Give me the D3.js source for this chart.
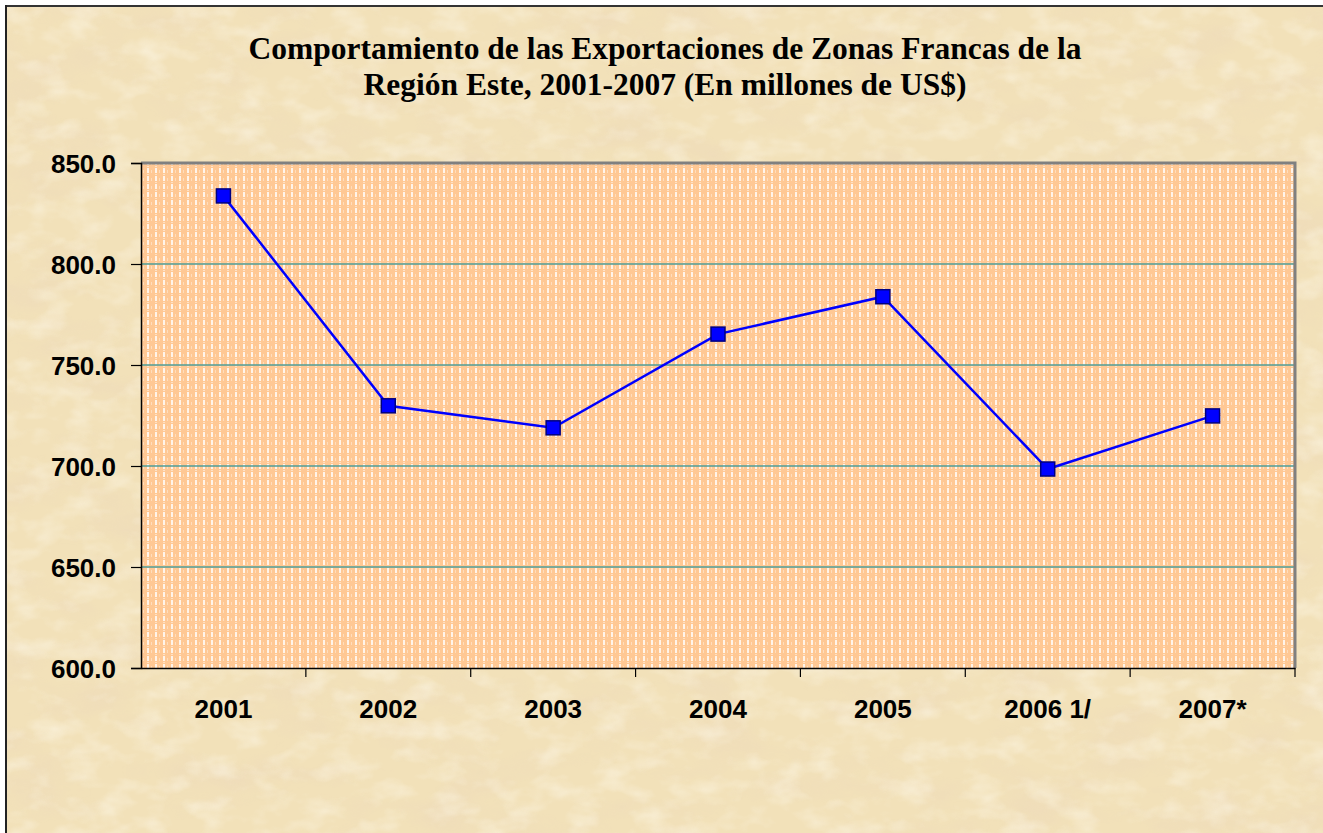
<!DOCTYPE html>
<html><head><meta charset="utf-8">
<script src="https://cdn.jsdelivr.net/npm/d3@7"></script>
<style>html,body{margin:0;padding:0;background:#fff;}svg{display:block;}</style>
</head><body>
<svg id="chart" width="1323" height="833"></svg>
<script>
const categories = ["2001","2002","2003","2004","2005","2006 1/","2007*"];
const values = [833.7, 729.8, 718.9, 765.3, 783.8, 698.5, 724.8];
const yTicks = [600, 650, 700, 750, 800, 850];
const titleLines = ["Comportamiento de las Exportaciones de Zonas Francas de la","Región Este, 2001-2007 (En millones de US$)"];

const svg = d3.select("#chart");
const W = 1323, H = 833;
const defs = svg.append("defs");

// parchment texture
const f = defs.append("filter").attr("id","parch").attr("x",0).attr("y",0).attr("width","100%").attr("height","100%");
f.append("feTurbulence").attr("type","fractalNoise").attr("baseFrequency","0.012 0.025").attr("numOctaves",4).attr("seed",7).attr("result","n");
f.append("feColorMatrix").attr("in","n").attr("type","matrix")
 .attr("values","0 0 0 0 0.82  0 0 0 0 0.66  0 0 0 0 0.50  1.6 0 0 0 -0.74");

const f2 = defs.append("filter").attr("id","parch2").attr("x",0).attr("y",0).attr("width","100%").attr("height","100%");
f2.append("feTurbulence").attr("type","fractalNoise").attr("baseFrequency","0.03 0.05").attr("numOctaves",3).attr("seed",12).attr("result","n");
f2.append("feColorMatrix").attr("in","n").attr("type","matrix")
 .attr("values","0 0 0 0 1  0 0 0 0 0.97  0 0 0 0 0.88  1.6 0 0 0 -0.72");

// stripe pattern for plot area
const pat = defs.append("pattern").attr("id","stripes").attr("patternUnits","userSpaceOnUse")
  .attr("width",8).attr("height",8);
pat.append("rect").attr("width",8).attr("height",8).attr("fill","#FFC894");
pat.append("rect").attr("x",3).attr("y",0).attr("width",2).attr("height",5).attr("fill","#FFF4EA");
pat.append("rect").attr("x",3).attr("y",6).attr("width",2).attr("height",1).attr("fill","#FFE2C6");
pat.append("rect").attr("x",7).attr("y",2).attr("width",1).attr("height",3).attr("fill","#FFDDBC");

// background
svg.append("rect").attr("x",7).attr("y",7).attr("width",W-7).attr("height",H-7).attr("fill","#F2E1B9");
svg.append("rect").attr("x",7).attr("y",7).attr("width",W-7).attr("height",H-7).attr("filter","url(#parch)").attr("opacity",0.5);
svg.append("rect").attr("x",7).attr("y",7).attr("width",W-7).attr("height",H-7).attr("filter","url(#parch2)").attr("opacity",0.6);
// frame border lines (top & left)
svg.append("line").attr("x1",5).attr("x2",W).attr("y1",6).attr("y2",6).attr("stroke","#333").attr("stroke-width",2);
svg.append("line").attr("x1",6).attr("x2",6).attr("y1",5).attr("y2",H).attr("stroke","#222").attr("stroke-width",2);

const m = {left:141, top:163, right:1295, bottom:668};
const x = d3.scaleBand().domain(categories).range([m.left, m.right]).paddingInner(0).paddingOuter(0);
const y = d3.scaleLinear().domain([600, 850]).range([m.bottom, m.top]);

// plot area
svg.append("rect").attr("x",m.left).attr("y",m.top).attr("width",m.right-m.left).attr("height",m.bottom-m.top)
  .attr("fill","url(#stripes)");

// gridlines
svg.append("g").selectAll("line").data(yTicks.filter(d=>d>600 && d<850)).join("line")
  .attr("x1",m.left).attr("x2",m.right).attr("y1",d=>y(d)).attr("y2",d=>y(d))
  .attr("stroke","#4E9E98").attr("stroke-width",1.5);

// plot border top/right (gray)
svg.append("path").attr("d",`M${m.left},${m.top}H${m.right}V${m.bottom}`)
  .attr("fill","none").attr("stroke","#808080").attr("stroke-width",3);

const font = "'Liberation Sans', Arial, sans-serif";
// y axis
const yAxis = d3.axisLeft(y).tickValues(yTicks).tickFormat(d3.format(".1f")).tickSize(10).tickPadding(15);
const gy = svg.append("g").attr("transform",`translate(${m.left},0)`).call(yAxis);
gy.select(".domain").attr("stroke","#000").attr("stroke-width",1.5);
gy.selectAll(".tick line").attr("stroke","#000").attr("stroke-width",1.2);
gy.selectAll(".tick text").attr("font-family",font).attr("font-weight","bold")
  .attr("font-size",26).attr("fill","#000").attr("dy","0.36em");

// x axis
const xAxis = d3.axisBottom(x).tickSize(0).tickPadding(32);
const gx = svg.append("g").attr("transform",`translate(0,${m.bottom})`).call(xAxis);
gx.select(".domain").attr("stroke","#000").attr("stroke-width",1.5);
gx.selectAll(".tick text").attr("font-family",font).attr("font-weight","bold")
  .attr("font-size",26).attr("fill","#000");
// category boundary ticks
svg.append("g").selectAll("line").data(categories).join("line")
  .attr("x1",d=>x(d)+x.bandwidth()).attr("x2",d=>x(d)+x.bandwidth())
  .attr("y1",m.bottom).attr("y2",m.bottom+9).attr("stroke","#000").attr("stroke-width",1.2);

// line
const line = d3.line().x((d,i)=>x(categories[i])+x.bandwidth()/2).y(d=>y(d));
svg.append("path").datum(values).attr("d",line).attr("fill","none").attr("stroke","#0000FF").attr("stroke-width",2.5);

// markers
const ms = 14;
svg.append("g").selectAll("rect").data(values).join("rect")
  .attr("x",(d,i)=>x(categories[i])+x.bandwidth()/2-ms/2).attr("y",d=>y(d)-ms/2)
  .attr("width",ms).attr("height",ms).attr("fill","#0000FF").attr("stroke","#000080").attr("stroke-width",1.5);

// title
svg.append("g").selectAll("text").data(titleLines).join("text")
  .attr("x",665).attr("y",(d,i)=>59+i*36).attr("text-anchor","middle")
  .attr("font-family","'Liberation Serif','Times New Roman',serif").attr("font-weight","bold")
  .attr("font-size",31.5).attr("fill","#000").text(d=>d);
</script>
</body></html>
